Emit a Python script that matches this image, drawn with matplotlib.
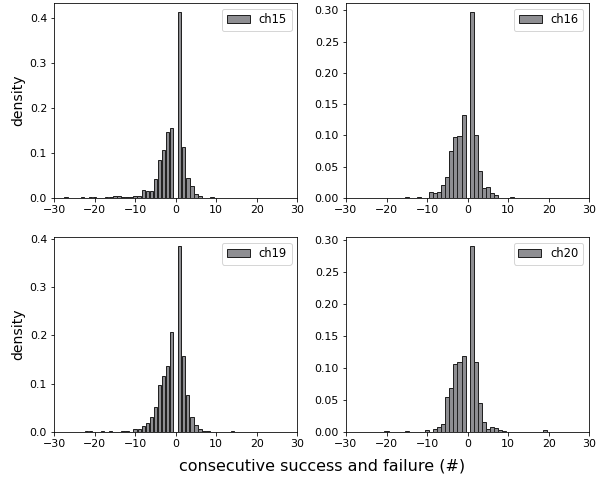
import matplotlib
matplotlib.use("Agg")
import matplotlib.pyplot as plt
from matplotlib.ticker import MultipleLocator, FormatStrFormatter

# density of consecutive successes (+) and failures (-) per channel
ch15_runs = [-27, -23, -21, -20, -17, -16, -15, -14, -13, -12, -11, -10, -9,
             -8, -7, -6, -5, -4, -3, -2, -1, 1, 2, 3, 4, 5, 6, 9]
ch15_density = [0.001, 0.001, 0.002, 0.002, 0.001, 0.002, 0.003, 0.003, 0.002,
                0.002, 0.002, 0.005, 0.004, 0.018, 0.016, 0.014, 0.042, 0.084,
                0.107, 0.147, 0.155, 0.413, 0.113, 0.044, 0.027, 0.009, 0.003,
                0.001]

ch16_runs = [-15, -12, -9, -8, -7, -6, -5, -4, -3, -2, -1,
             1, 2, 3, 4, 5, 6, 7, 11]
ch16_density = [0.001, 0.002, 0.010, 0.007, 0.010, 0.020, 0.033, 0.0755, 0.097,
                0.099, 0.132, 0.297, 0.100, 0.043, 0.016, 0.0165, 0.007, 0.004,
                0.001]

ch19_runs = [-22, -21, -18, -16, -13, -12, -10, -9, -8, -7, -6, -5, -4, -3,
             -2, -1, 1, 2, 3, 4, 5, 6, 7, 8, 14]
ch19_density = [0.0005, 0.0005, 0.001, 0.001, 0.0015, 0.0015, 0.005, 0.005,
                0.011, 0.019, 0.030, 0.051, 0.098, 0.116, 0.137, 0.207, 0.386,
                0.157, 0.076, 0.030, 0.014, 0.0055, 0.002, 0.002, 0.001]

ch20_runs = [-20, -15, -10, -8, -7, -6, -5, -4, -3, -2, -1,
             1, 2, 3, 4, 5, 6, 7, 8, 9, 19]
ch20_density = [0.0005, 0.001, 0.003, 0.004, 0.008, 0.012, 0.054, 0.069, 0.106,
                0.109, 0.119, 0.290, 0.109, 0.045, 0.015, 0.004, 0.007, 0.005,
                0.003, 0.0015, 0.002]

channels = ["ch15", "ch16", "ch19", "ch20"]
runs = [ch15_runs, ch16_runs, ch19_runs, ch20_runs]
densities = [ch15_density, ch16_density, ch19_density, ch20_density]
bar_widths = [0.85, 1.0, 0.8, 1.0]
y_steps = [0.1, 0.05, 0.1, 0.05]
y_formats = ["%.1f", "%.2f", "%.1f", "%.2f"]

DPI = 72
plt.rcParams["font.size"] = 11

fig, axes = plt.subplots(2, 2, figsize=(597 / DPI, 477 / DPI), dpi=DPI)
fig.subplots_adjust(left=0.0905, right=0.987, top=0.994, bottom=0.095,
                    wspace=0.2, hspace=0.2)

for ax, name, x, y, w, step, fmt in zip(axes.flatten(), channels, runs,
                                        densities, bar_widths, y_steps, y_formats):
    ax.bar(x, y, width=w, color="#8e8e92", edgecolor="#222222",
           linewidth=1.0, label=name)
    ax.set_xlim(-30, 30)
    ax.set_xticks([-30, -20, -10, 0, 10, 20, 30])
    ax.yaxis.set_major_locator(MultipleLocator(step))
    ax.yaxis.set_major_formatter(FormatStrFormatter(fmt))
    ax.legend(loc="upper right", fontsize=11.5)

axes[0, 0].set_ylabel("density", fontsize=14)
axes[1, 0].set_ylabel("density", fontsize=14)
fig.text(0.54, 0.008, "consecutive success and failure (#)", ha="center",
         va="bottom", fontsize=16)

fig.savefig("out.png", dpi=DPI)
